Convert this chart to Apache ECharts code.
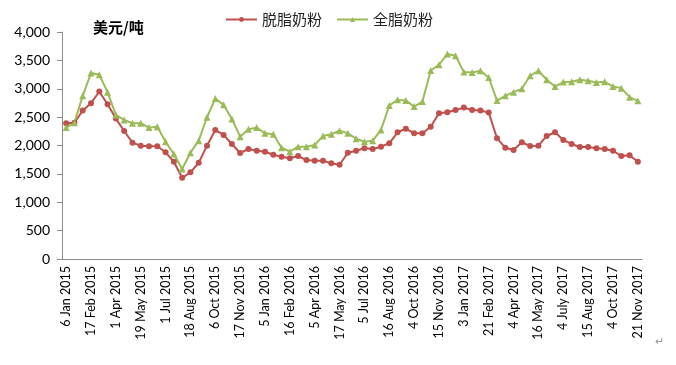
<!DOCTYPE html>
<html><head><meta charset="utf-8">
<script src="https://cdn.jsdelivr.net/npm/echarts@6/dist/echarts.min.js"></script>
<style>html,body{margin:0;padding:0;background:#fff}#c{width:676px;height:365px}</style>
</head><body><div id="c"></div>
<script>
const labelDates = ["6 Jan 2015","17 Feb 2015","1 Apr 2015","19 May 2015","1 Jul 2015","18 Aug 2015","6 Oct 2015","17 Nov 2015","5 Jan 2016","16 Feb 2016","5 Apr 2016","17 May 2016","5 Jul 2016","16 Aug 2016","4 Oct 2016","15 Nov 2016","3 Jan 2017","21 Feb 2017","4 Apr 2017","16 May 2017","4 July 2017","15 Aug 2017","4 Oct 2017","21 Nov 2017"];
// 70 auctions; only every third carries a printed label
const categories = [];
for (let i = 0; i < 70; i++) categories.push(i % 3 === 0 ? labelDates[i / 3] : "a" + i);

const skim = [2392,2400,2615,2745,2951,2728,2474,2256,2050,1997,1986,1986,1880,1714,1431,1527,1696,1997,2274,2186,2027,1868,1938,1908,1891,1838,1802,1774,1815,1744,1732,1732,1686,1661,1873,1908,1951,1938,1979,2039,2233,2297,2215,2215,2332,2569,2587,2627,2668,2627,2615,2580,2127,1961,1921,2056,1991,1997,2168,2233,2097,2027,1974,1974,1951,1938,1908,1815,1827,1714];
const whole = [2315,2403,2875,3276,3246,2940,2539,2451,2392,2392,2315,2332,2067,1850,1585,1873,2085,2498,2827,2716,2468,2156,2286,2315,2215,2198,1961,1891,1979,1979,2009,2168,2198,2262,2215,2121,2067,2085,2274,2704,2804,2792,2686,2774,3322,3423,3612,3582,3293,3287,3317,3198,2792,2875,2940,2999,3228,3317,3158,3039,3117,3122,3158,3140,3110,3122,3039,3011,2852,2787];
const yTicks = [0,500,1000,1500,2000,2500,3000,3500,4000];
const seriesNames = ["脱脂奶粉","全脂奶粉"];

const chart = echarts.init(document.getElementById('c'));
const font = "Lato, 'Noto Sans CJK SC', sans-serif";
chart.setOption({
  animation: false,
  backgroundColor: '#fff',
  grid: {left: 62, right: 34, top: 32, bottom: 106},
  title: {text: '美元/吨', left: 88, top: 15, textStyle: {fontSize: 15, fontWeight: 'bold', color: '#000', fontFamily: "'Noto Sans CJK SC', sans-serif"}},
  legend: {
    left: 220, top: 7, itemWidth: 31, itemHeight: 6, itemGap: 14,
    textStyle: {fontSize: 15, color: '#222', fontFamily: "'Noto Sans CJK SC', sans-serif"},
    data: seriesNames
  },
  xAxis: {
    type: 'category', data: categories, boundaryGap: true,
    axisLine: {lineStyle: {color: '#8c8c8c'}},
    axisTick: {interval: 0, length: 5, lineStyle: {color: '#8c8c8c'}},
    axisLabel: {
      interval: 2, rotate: 90, fontSize: 12.5, color: '#000', fontFamily: font, margin: 7,
      formatter: v => v.startsWith('a') ? '' : v
    }
  },
  yAxis: {
    type: 'value', min: yTicks[0], max: yTicks[yTicks.length - 1], interval: 500,
    splitLine: {show: false},
    axisLine: {show: true, lineStyle: {color: '#8c8c8c'}},
    axisTick: {show: true, length: 5, lineStyle: {color: '#8c8c8c'}},
    axisLabel: {fontSize: 14, color: '#000', fontFamily: font, margin: 12,
      formatter: v => v.toLocaleString('en-US')}
  },
  series: [
    {name: seriesNames[0], type: 'line', data: skim, symbol: 'circle', symbolSize: 6, showAllSymbol: true,
      itemStyle: {color: '#C0504D'}, lineStyle: {width: 2, color: '#C0504D'}},
    {name: seriesNames[1], type: 'line', data: whole, symbol: 'triangle', symbolSize: 7, showAllSymbol: true,
      itemStyle: {color: '#9BBB59'}, lineStyle: {width: 2, color: '#9BBB59'}}
  ],
  graphic: [{type: 'text', left: 655, top: 336, style: {text: '↵', fontSize: 11, fill: '#999'}}]
});
</script></body></html>
